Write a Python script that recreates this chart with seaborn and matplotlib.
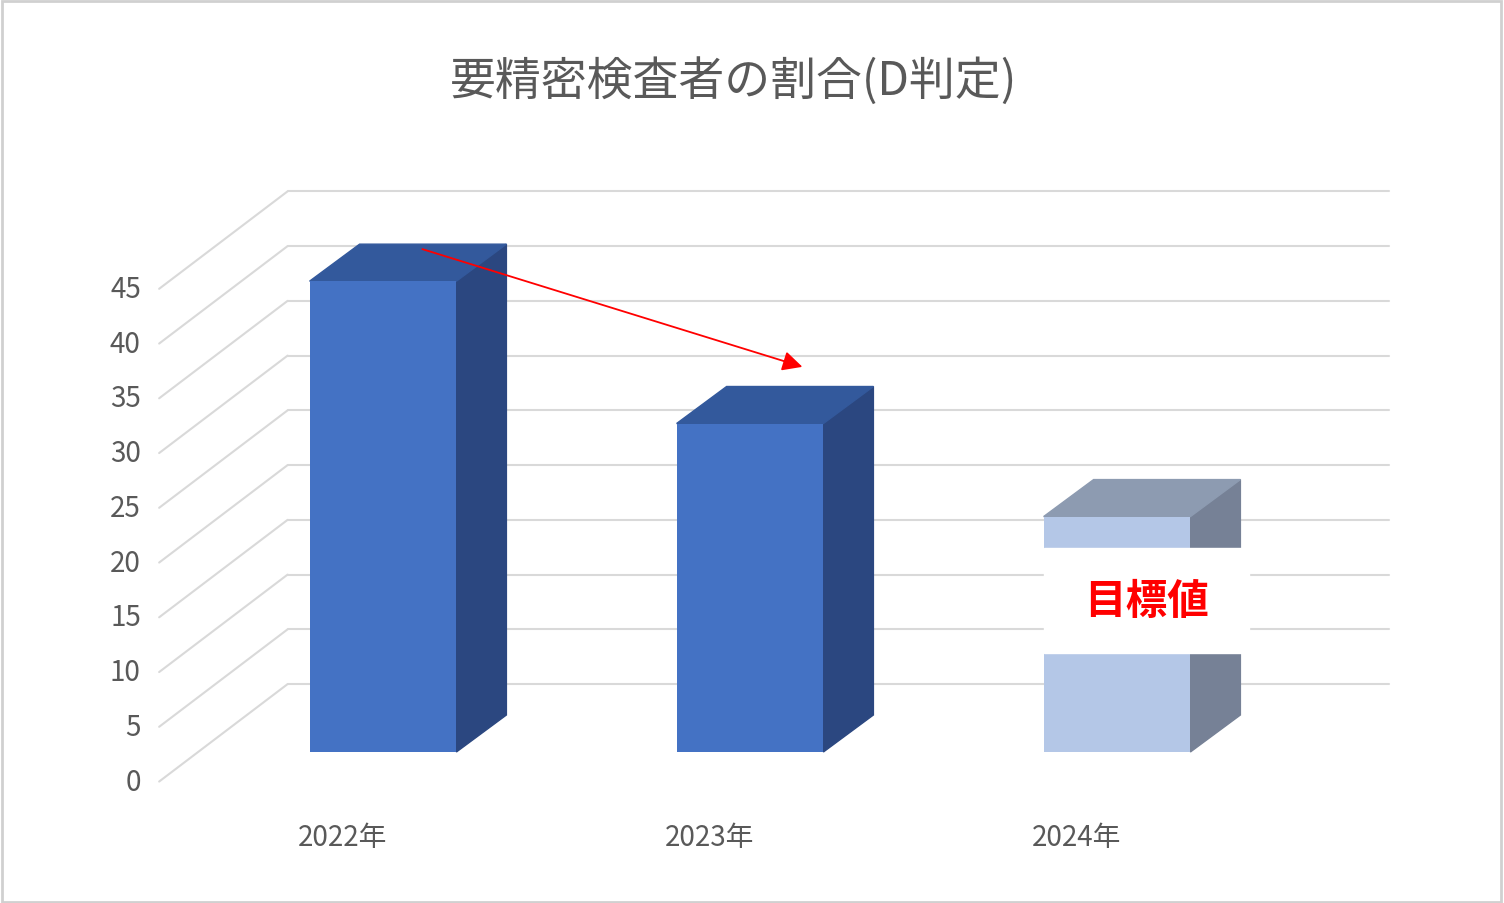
import matplotlib
matplotlib.use("Agg")
import matplotlib.pyplot as plt
import seaborn as sns
import pandas as pd
from matplotlib.patches import Polygon, Rectangle

# ---------------------------
# Data
# ---------------------------
years = ["2022年", "2023年", "2024年"]
values = [43, 30, 21.5]
front_colors = ["#4472C4", "#4472C4", "#B4C7E7"]
side_colors = ["#2B4780", "#2B4780", "#768196"]
top_colors = ["#33599C", "#33599C", "#8D9BB1"]
ticks = [0, 5, 10, 15, 20, 25, 30, 35, 40, 45]

sns.set_theme(style="white")
plt.rcParams['font.family'] = ['Noto Sans CJK JP', 'DejaVu Sans']

fig = plt.figure(figsize=(15.04, 9.04), dpi=100)
ax = fig.add_axes([0, 0, 1, 1])
XL = (-383 / 367, (1504 - 383) / 367)
YL = (-151 / 10.95, 753 / 10.95)

# depth of the bars and of the back wall
bdx, bdy = 50 / 367, 37 / 10.95
gdy = 1.2
wall_x0, wall_x1, front_x = -0.26, 2.74, -0.61

# back wall gridlines + left floor diagonals
for v in ticks:
    ax.plot([wall_x0, wall_x1], [v + 5 + gdy, v + 5 + gdy], color="#D9D9D9", lw=1.5, zorder=0)
    ax.plot([front_x, wall_x0], [v - 2.7, v + 5 + gdy], color="#D9D9D9", lw=1.5, zorder=0)
    ax.text(front_x - 0.05, v - 2.7, str(v), ha="right", va="center", fontsize=20, color="#595959")

df = pd.DataFrame({"year": years, "value": values})
sns.barplot(data=df, x="year", y="value", width=0.4, palette=front_colors,
            hue="year", legend=False, ax=ax, zorder=3, saturation=1, linewidth=0)

for i, v in enumerate(values):
    l, r = i - 0.2, i + 0.2
    ax.add_patch(Polygon([(r, 0), (r + bdx, bdy), (r + bdx, v + bdy), (r, v)],
                         color=side_colors[i], zorder=2))
    ax.add_patch(Polygon([(l, v), (l + bdx, v + bdy), (r + bdx, v + bdy), (r, v)],
                         color=top_colors[i], zorder=2))
    ax.text(i - 0.11, -7.8, years[i], ha="center", va="center", fontsize=20, color="#595959")

# target label
ax.add_patch(Rectangle((2 - 0.2, 9.0), 0.56, 9.6, color="white", zorder=5))
ax.text(2.08, 13.8, "目標値", ha="center", va="center", fontsize=30,
        color="#FF0000", fontweight="bold", zorder=6)

# red arrow
ax.annotate("", xy=(1.15, 35.1), xytext=(0.1, 46.0),
            arrowprops=dict(arrowstyle="-|>", color="red", lw=1.3, mutation_scale=30), zorder=7)

ax.set_xlim(*XL)
ax.set_ylim(*YL)
ax.axis("off")

fig.text(0.488, 0.91, "要精密検査者の割合(D判定)", ha="center", va="center",
         fontsize=33, color="#595959")
fig.add_artist(Rectangle((0.001, 0.001), 0.997, 0.997, transform=fig.transFigure,
                         fill=False, edgecolor="#D0D0D0", lw=2))

fig.savefig("out.png", dpi=100)
